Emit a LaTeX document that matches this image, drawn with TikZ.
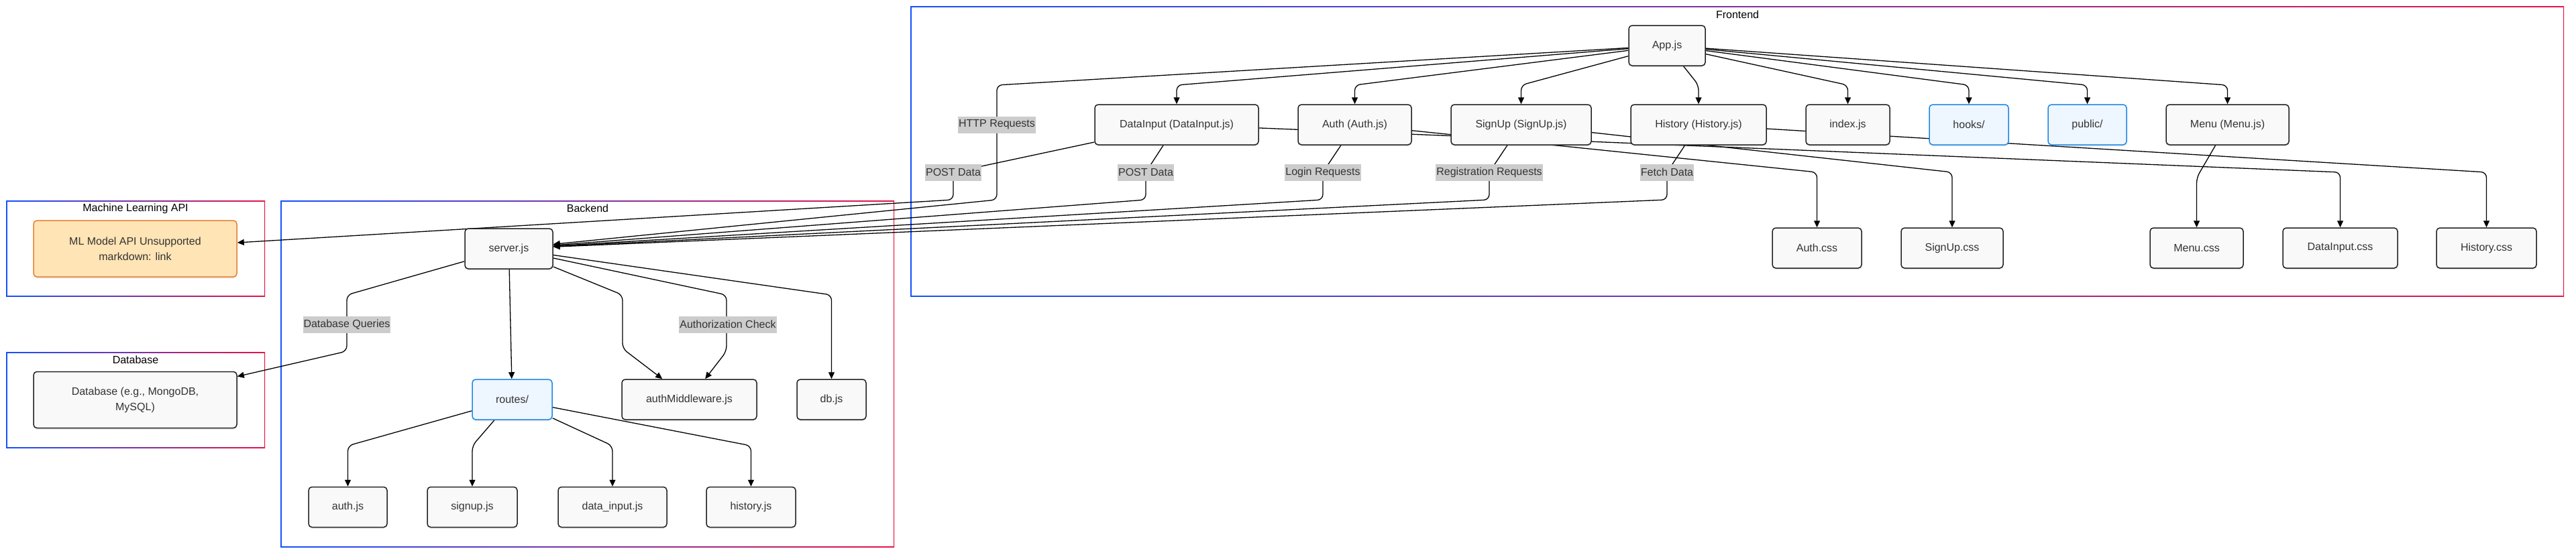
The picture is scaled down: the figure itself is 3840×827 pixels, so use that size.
\documentclass[tikz,border=0pt]{standalone}
\usepackage{fontspec}
\setmainfont{Liberation Sans}
\usetikzlibrary{arrows.meta,backgrounds,shadows}

\definecolor{nodefill}{RGB}{249,249,249}
\definecolor{nodeline}{RGB}{34,34,34}
\definecolor{textgray}{RGB}{51,51,51}
\definecolor{dirfill}{RGB}{238,246,255}
\definecolor{dirline}{RGB}{30,136,229}
\definecolor{apifill}{RGB}{255,228,181}
\definecolor{apiline}{RGB}{230,128,55}
\definecolor{lblfill}{RGB}{204,204,204}
\definecolor{frameblue}{RGB}{20,80,255}
\definecolor{framered}{RGB}{230,20,70}

\tikzset{
  filebox/.style={draw=nodeline, fill=nodefill, line width=1.5pt, rounded corners=5pt,
    minimum height=60pt, inner xsep=0pt, text=textgray, align=center,
    font=\fontsize{16}{23}\selectfont,
    drop shadow={shadow xshift=0pt, shadow yshift=-2.5pt, opacity=0.15}},
  dirbox/.style={filebox, draw=dirline, fill=dirfill},
  apibox/.style={filebox, draw=apiline, fill=apifill},
  link/.style={line width=1.3pt, rounded corners=8pt, -{Triangle[length=10pt,width=9pt]}},
  elabel/.style={fill=lblfill, text=textgray, inner xsep=1pt, inner ysep=0pt,
    minimum height=25pt, font=\fontsize{16}{19}\selectfont},
  ctitle/.style={text=black, font=\fontsize{16}{19}\selectfont}
}

\begin{document}
\begin{tikzpicture}[x=1pt, y=-1pt]
  \useasboundingbox (0,0) rectangle (3840,827);
  % Cluster titles
  \node[ctitle] (frontendtitle) at (2590,22)  {Frontend};
  \node[ctitle] (mltitle)       at (202,311)  {Machine Learning API};
  \node[ctitle] (dbtitle)       at (202,537)  {Database};
  \node[ctitle] (backendtitle)  at (876,311)  {Backend};
  % Frontend
  \node[filebox, minimum width=114pt] (app)        at (2485,68)    {App.js};
  \node[filebox, minimum width=244pt] (datainput)  at (1754,186)   {DataInput (DataInput.js)};
  \node[filebox, minimum width=169pt] (auth)       at (2019.5,186) {Auth (Auth.js)};
  \node[filebox, minimum width=209pt] (signup)     at (2267.5,186) {SignUp (SignUp.js)};
  \node[filebox, minimum width=202pt] (history)    at (2532,186)   {History (History.js)};
  \node[filebox, minimum width=125pt] (index)      at (2754.5,186) {index.js};
  \node[dirbox,  minimum width=118pt] (hooks)      at (2935,186)   {hooks/};
  \node[dirbox,  minimum width=117pt] (public)     at (3111.5,186) {public/};
  \node[filebox, minimum width=183pt] (menu)       at (3320.5,186) {Menu (Menu.js)};
  \node[filebox, minimum width=133pt] (authcss)      at (2708.5,370) {Auth.css};
  \node[filebox, minimum width=152pt] (signupcss)    at (2910,370)   {SignUp.css};
  \node[filebox, minimum width=139pt] (menucss)      at (3274.5,370) {Menu.css};
  \node[filebox, minimum width=171pt] (datainputcss) at (3488.5,370) {DataInput.css};
  \node[filebox, minimum width=149pt] (historycss)   at (3706.5,370) {History.css};
  % Backend
  \node[filebox, minimum width=131pt] (server)      at (758.5,371)  {server.js};
  \node[dirbox,  minimum width=119pt] (routes)      at (763.5,596)  {routes/};
  \node[filebox, minimum width=201pt] (authmw)      at (1027.5,596) {authMiddleware.js};
  \node[filebox, minimum width=103pt] (db)          at (1239.5,596) {db.js};
  \node[filebox, minimum width=117pt] (authjs)      at (518.5,756.5) {auth.js};
  \node[filebox, minimum width=134pt] (signupjs)    at (704,756.5)   {signup.js};
  \node[filebox, minimum width=162pt] (datainputjs) at (913,756.5)   {data\_input.js};
  \node[filebox, minimum width=133pt] (historyjs)   at (1119.5,756.5) {history.js};
  % Machine Learning API and Database
  \node[apibox,  minimum width=303pt, minimum height=84pt] (mlapi)    at (201.5,371)   {ML Model API Unsupported\\markdown: link};
  \node[filebox, minimum width=303pt, minimum height=84pt] (database) at (201.5,596.5) {Database (e.g., MongoDB,\\MySQL)};

  \begin{scope}[on background layer]
    % cluster frames, blue to red
    \foreach \xa/\ya/\xb/\yb in {1357/9/3822/442, 9/299/395/442, 9/525/395/668, 418/299/1333/816} {
      \shade[left color=frameblue, right color=framered] (\xa,\ya) rectangle (\xb,\yb);
      \fill[white] (\xa+1.5,\ya+1.5) rectangle (\xb-1.5,\yb-1.5);
    }
    % App.js to its parts
    \foreach \dest/\bx in {datainput/1754, auth/2019.5, signup/2267.5, history/2532,
                           index/2754.5, hooks/2935, public/3111.5, menu/3320.5}
      \draw[link] (app) -- (\bx,127) -- (\dest);
    % requests to server.js
    \draw[link] (app) -- (1486,127) -- (1486,298) -- (server);
    \foreach \src/\lx in {datainput/1708, auth/1972, signup/2220, history/2485}
      \draw[link] (\src) -- (\lx,257) -- (\lx,298) -- (server);
    \draw[link] (datainput) -- (1421,257) -- (1421,298) -- (mlapi);
    % style sheets
    \foreach \src/\dest/\bx in {auth/authcss/2708.5, signup/signupcss/2910,
                                datainput/datainputcss/3488.5, history/historycss/3706.5}
      \draw[link] (\src) -- (\bx,257) -- (\dest);
    \draw[link] (menu) -- (3274.5,265) -- (menucss);
    % server.js
    \draw[link] (server) -- (517,440) -- (517,524) -- (database);
    \draw[link] (server) -- (routes);
    \draw[link] (server) -- (928,440) -- (928,520) -- (authmw);
    \draw[link] (server) -- (1083,440) -- (1083,524) -- (authmw);
    \draw[link] (server) -- (1239.5,440) -- (db);
    % routes/
    \foreach \dest/\bx in {authjs/518.5, signupjs/704, datainputjs/913, historyjs/1119.5}
      \draw[link] (routes) -- (\bx,665) -- (\dest);
  \end{scope}

  % Edge labels
  \node[elabel] (httplbl)    at (1486,186) {HTTP Requests};
  \node[elabel] (postmllbl)  at (1421,257) {POST Data};
  \node[elabel] (postlbl)    at (1708,257) {POST Data};
  \node[elabel] (loginlbl)   at (1972,257) {Login Requests};
  \node[elabel] (reglbl)     at (2220,257) {Registration Requests};
  \node[elabel] (fetchlbl)   at (2485,257) {Fetch Data};
  \node[elabel] (dbqlbl)     at (517,484)  {Database Queries};
  \node[elabel] (authchklbl) at (1085,484) {Authorization Check};
\end{tikzpicture}
\end{document}
